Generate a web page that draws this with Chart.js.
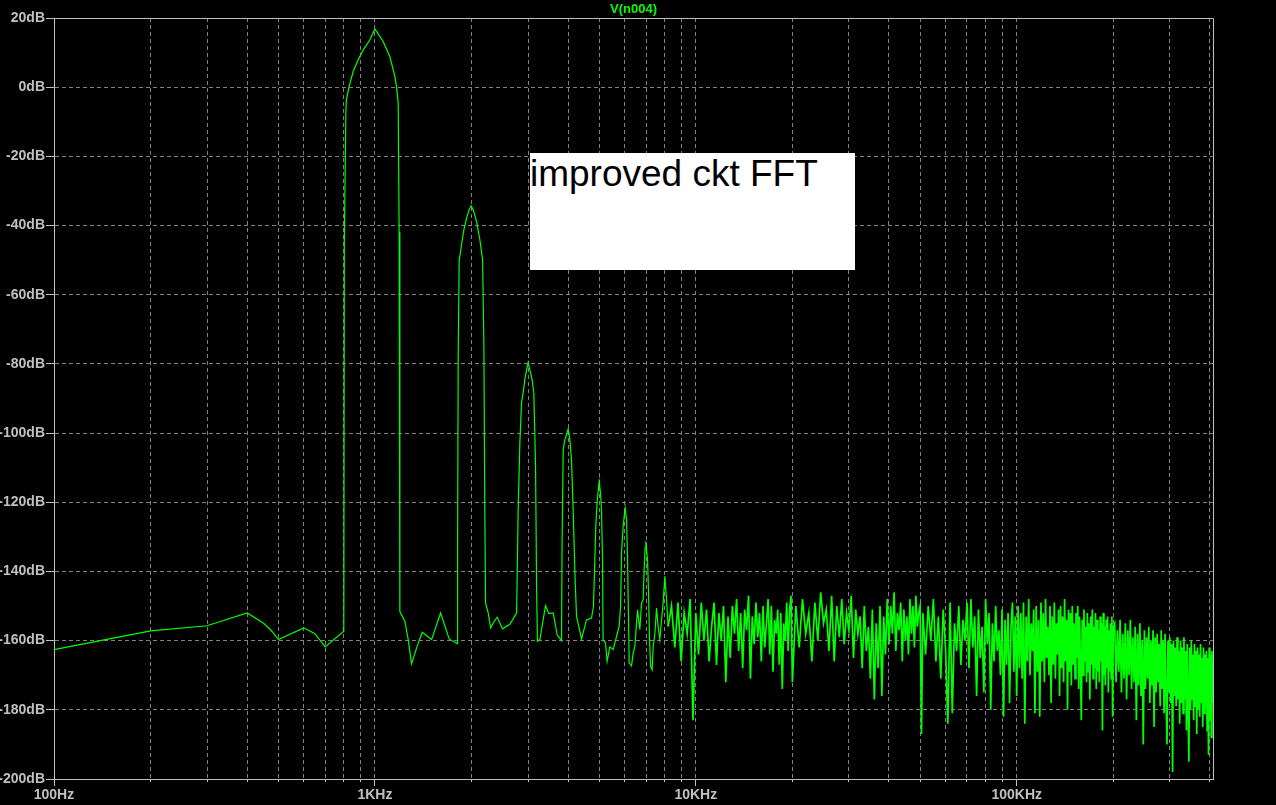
<!DOCTYPE html>
<html>
<head>
<meta charset="utf-8">
<script src="https://cdn.jsdelivr.net/npm/chart.js@4.4.1/dist/chart.umd.min.js"></script>
<style>
  html, body { margin: 0; padding: 0; background: #000; }
  #wrap { position: relative; width: 1276px; height: 805px; }
  #note {
    position: absolute; left: 530px; top: 153px; width: 325px; height: 117px;
    background: #fff; color: #000; box-sizing: border-box; padding: 3px 0 0 0;
    font: 37px/35px "Liberation Sans", Arial, sans-serif; white-space: nowrap;
  }
</style>
</head>
<body>
<div id="wrap">
  <canvas id="fft" width="1276" height="805"></canvas>
  <div id="note">improved ckt FFT</div>
</div>
<script>
// trace name shown above the plot
const TRACE_NAME = "V(n004)";

// 100Hz .. 8.2KHz: floor, fundamental and harmonics (Hz, dB)
const lowFreqHz = [100,200,300,400,450,480,500,600,650,700,800,803,812,815,830,856,887,920,965,1000,
  1061,1113,1154,1168,1182,1190,1196,1240,1270,1301,1349,1404,1502,1602,1704,1805,1810,1818,1831,1849,
  1871,1894,1931,1967,1995,2024,2074,2124,2166,2186,2201,2212,2254,2294,2337,2404,2499,2634,2764,2795,
  2829,2864,2897,2933,2969,3003,3040,3090,3128,3167,3190,3210,3266,3402,3484,3594,3698,3816,3830,3862,
  3908,3956,4002,4051,4101,4148,4200,4250,4405,4564,4732,4800,4881,4926,4962,4999,5047,5083,5120,5142,
  5232,5293,5396,5526,5662,5769,5830,5869,5937,5997,6024,6084,6128,6186,6199,6306,6379,6457,6584,6693,
  6776,6853,6903,6952,6988,7022,7073,7124,7176,7228,7311,7363,7453,7544,7631,7725,7910,8008,8107,8200];
const lowDb = [-162.6,-157.2,-155.7,-152.0,-155,-157.5,-159.7,-156.3,-158,-161.8,-157.3,-45,-7,-3.6,0,4.6,7.9,10.8,13.7,16.8,
  13.2,8.9,3.1,0,-4.6,-42,-151.6,-154.4,-159.7,-166.7,-162.1,-157.6,-159.7,-152,-159.5,-160.9,-133.1,-78.3,-49.9,-47.5,
  -44.1,-41.2,-37.8,-35.4,-34.3,-35.4,-38.8,-44.1,-49.9,-75.4,-123.6,-149.1,-152,-156.3,-154.9,-153.2,-156.6,-155.3,-152,-122.6,
  -102.9,-91.3,-88.4,-84.4,-81.7,-79.6,-81.7,-84.6,-88.4,-109.6,-143.8,-160.2,-159.7,-149.9,-152.2,-152,-158.3,-160,-133.2,-104.8,
  -101.9,-100.5,-98.8,-101.9,-108.2,-122.2,-140.5,-153,-159.5,-154,-153.5,-150,-126.5,-119.8,-116.9,-114,-117.3,-122.2,-135.7,-159.7,
  -160.7,-166,-161.8,-162.6,-158.8,-155.9,-150,-134.7,-127,-123.1,-121.7,-125,-136.6,-159.7,-166.5,-167.3,-163.6,-161.7,-151.1,-156.8,
  -149.1,-148.2,-139.5,-133.2,-131.3,-133.7,-136.6,-146.2,-159.7,-167.4,-168.4,-161.7,-158.3,-150.6,-155.9,-159.7,-149.1,-141.4,-148.2,-155.9];

// noise floor 8.4K .. 20K (kHz, dB)
const noiseA_kHz = [8.4,8.6,8.8,9.0,9.2,9.4,9.6,9.8,10.0,10.2,10.4,10.6,10.8,11.0,11.2,11.4,11.6,11.8,12.0,12.2,
  12.4,12.6,12.8,13.0,13.2,13.4,13.6,13.8,14.0,14.2,14.4,14.6,14.8,15.0,15.2,15.4,15.6,15.8,16.0,16.2,
  16.4,16.6,16.8,17.0,17.2,17.4,17.6,17.8,18.0,18.2,18.4,18.6,18.8,19.0,19.2,19.4,19.6,19.8,20.0];
const noiseA_db = [-150,-162,-149,-166,-152,-158,-148,-183,-152,-164,-149,-160,-151,-166,-156,-149,-167,-152,-160,-150,
  -172,-153,-165,-150,-158,-148,-163,-152,-168,-151,-157,-147,-171,-153,-161,-149,-159,-152,-166,-150,
  -162,-155,-148,-164,-150,-169,-154,-158,-151,-167,-152,-174,-155,-160,-149,-163,-151,-147,-172];

// noise floor 20.5K .. 50.5K
const noiseB_kHz = [20.5,21,21.5,22,22.5,23,23.5,24,24.5,25,25.5,26,26.5,27,27.5,28,28.5,29,29.5,30,
  30.5,31,31.5,32,32.5,33,33.5,34,34.5,35,35.5,36,36.5,37,37.5,38,38.5,39,39.5,40,
  40.5,41,41.5,42,42.5,43,43.5,44,44.5,45,45.5,46,46.5,47,47.5,48,48.5,49,49.5,50,50.5];
const noiseB_db = [-150,-162,-148,-158,-152,-166,-149,-160,-146,-155,-151,-163,-147,-166,-150,-159,-148,-161,-152,-157,
  -147,-165,-151,-158,-153,-168,-150,-163,-156,-171,-151,-177,-155,-168,-150,-176,-153,-164,-148,-161,
  -150,-158,-146,-163,-152,-157,-149,-166,-151,-160,-153,-164,-148,-158,-150,-162,-147,-156,-152,-150,-187];

// noise floor 51K .. 100K
const noiseC_kHz = [51,52,53,54,55,56,57,58,59,60,61,62,63,64,65,66,67,68,69,70,
  71,72,73,74,75,76,77,78,79,80,81,82,83,84,85,86,87,88,89,90,
  91,92,93,94,95,96,97,98,99,100];
const noiseC_db = [-152,-164,-150,-160,-148,-166,-153,-171,-151,-162,-184,-149,-181,-155,-163,-150,-167,-154,-160,-149,
  -168,-148,-162,-153,-176,-151,-165,-156,-175,-148,-161,-152,-180,-155,-166,-150,-163,-157,-170,-151,
  -182,-154,-167,-152,-178,-156,-149,-169,-153,-176];

// noise floor 101K .. 200K
const noiseD_kHz = [101,102,103,104,105,106,107,108,109,110,111,112,113,114,115,116,117,118,119,120,
  121,122,123,124,125,126,127,128,129,130,131,132,133,134,135,136,137,138,139,140,
  141,142,143,144,145,146,147,148,149,150,151,152,153,154,155,156,157,158,159,160,
  161,162,163,164,165,166,167,168,169,170,171,172,173,174,175,176,177,178,179,180,
  181,182,183,184,185,186,187,188,189,190,191,192,193,194,195,196,197,198,199,200];
const noiseD_db = [-150,-168,-152,-171,-149,-184,-153,-166,-148,-170,-155,-163,-151,-181,-150,-169,-154,-182,-149,-166,
  -152,-172,-148,-165,-156,-170,-150,-178,-153,-167,-149,-171,-155,-164,-151,-176,-150,-168,-153,-172,
  -148,-166,-154,-180,-151,-169,-152,-173,-150,-167,-155,-171,-152,-165,-150,-174,-153,-168,-183,-154,
  -170,-151,-166,-156,-172,-152,-169,-155,-177,-153,-167,-151,-171,-156,-168,-152,-174,-154,-169,-157,
  -172,-153,-166,-155,-186,-152,-170,-156,-173,-154,-168,-153,-175,-157,-169,-155,-171,-153,-182,-156];

// noise floor 202K .. 408K
const noiseE_kHz = [202,204,206,208,210,212,214,216,218,220,222,224,226,228,230,232,234,236,238,240,
  242,244,246,248,250,252,254,256,258,260,262,264,266,268,270,272,274,276,278,280,
  282,284,286,288,290,292,294,296,298,300,302,304,306,308,310,312,314,316,318,320,
  322,324,326,328,330,332,334,336,338,340,342,344,346,348,350,352,354,356,358,360,
  362,364,366,368,370,372,374,376,378,380,382,384,386,388,390,392,394,396,398,400,
  402,404,406,408];
const noiseE_db = [-155,-172,-157,-169,-154,-175,-158,-171,-155,-177,-157,-170,-154,-174,-159,-172,-156,-183,-158,-173,
  -155,-176,-160,-190,-157,-174,-159,-171,-156,-178,-160,-173,-157,-185,-159,-175,-158,-172,-161,-179,
  -157,-174,-160,-181,-158,-176,-190,-160,-175,-159,-178,-161,-198,-160,-176,-162,-179,-159,-177,-163,
  -184,-160,-178,-162,-181,-159,-177,-163,-186,-161,-179,-195,-162,-180,-160,-177,-164,-183,-161,-179,
  -163,-187,-162,-180,-164,-182,-161,-178,-165,-185,-162,-181,-164,-179,-163,-186,-165,-193,-162,-183,
  -164,-188,-163,-178];

// axis labels
const yTicksDb = [-200,-180,-160,-140,-120,-100,-80,-60,-40,-20,0,20];
const xDecadeLabels = {100: "100Hz", 1000: "1KHz", 10000: "10KHz", 100000: "100KHz"};
const xGridHz = [100,200,300,400,500,600,700,800,900,
  1000,2000,3000,4000,5000,6000,7000,8000,9000,
  10000,20000,30000,40000,50000,60000,70000,80000,90000,
  100000,200000,300000,400000];

const X_MIN = 100, X_MAX = 409000;
const GREEN = "#00ff00";
const AXIS_GRAY = "#c0c0c0";
const GRID_GRAY = "#808080";
const LABEL_FONT = {family: "'Liberation Sans', Arial, sans-serif", size: 14, weight: "bold"};

function toPoints(freqs, dbs, mult) {
    return freqs.map(function (f, i) { return {x: f * mult, y: dbs[i]}; });
}
var harmonicTrace = toPoints(lowFreqHz, lowDb, 1);
// noise part starts at the last harmonic point so the trace stays joined
var noiseTrace = [harmonicTrace[harmonicTrace.length - 1]].concat(
    toPoints(noiseA_kHz, noiseA_db, 1000),
    toPoints(noiseB_kHz, noiseB_db, 1000),
    toPoints(noiseC_kHz, noiseC_db, 1000),
    toPoints(noiseD_kHz, noiseD_db, 1000),
    toPoints(noiseE_kHz, noiseE_db, 1000)
);

function alignPx(p) { return Math.round(p - 0.5) + 0.5; }

// black background, frame on top/right, longer decade ticks, trace name
const ltspiceLook = {
    id: "ltspiceLook",
    beforeDraw: function (chart) {
        const ctx = chart.ctx;
        ctx.save();
        ctx.fillStyle = "#000";
        ctx.fillRect(0, 0, chart.width, chart.height);
        ctx.restore();
    },
    afterDraw: function (chart) {
        const ctx = chart.ctx, a = chart.chartArea, xs = chart.scales.x;
        ctx.save();
        ctx.strokeStyle = AXIS_GRAY;
        ctx.lineWidth = 1;
        ctx.beginPath();
        ctx.moveTo(alignPx(a.left), alignPx(a.top));
        ctx.lineTo(alignPx(a.right), alignPx(a.top));
        ctx.lineTo(alignPx(a.right), alignPx(a.bottom));
        ctx.stroke();
        Object.keys(xDecadeLabels).forEach(function (v) {
            const px = alignPx(xs.getPixelForValue(Number(v)));
            ctx.beginPath();
            ctx.moveTo(px, a.bottom);
            ctx.lineTo(px, a.bottom + 7);
            ctx.stroke();
        });
        ctx.fillStyle = GREEN;
        ctx.font = "bold 13px 'Liberation Sans', Arial, sans-serif";
        ctx.textAlign = "center";
        ctx.textBaseline = "middle";
        ctx.fillText(TRACE_NAME, (a.left + a.right) / 2, 9);
        ctx.restore();
    }
};

new Chart(document.getElementById("fft").getContext("2d"), {
    type: "line",
    data: {
        datasets: [{
            data: harmonicTrace,
            borderColor: GREEN,
            borderWidth: 1.2,
            pointRadius: 0,
            tension: 0,
            fill: false
        }, {
            data: noiseTrace,
            borderColor: GREEN,
            borderWidth: 1.7,
            pointRadius: 0,
            tension: 0,
            fill: false
        }]
    },
    options: {
        responsive: false,
        devicePixelRatio: 1,
        animation: false,
        layout: {padding: {left: 0, top: 18, right: 63, bottom: 0}},
        plugins: {legend: {display: false}, tooltip: {enabled: false}, title: {display: false}},
        scales: {
            x: {
                type: "logarithmic",
                min: X_MIN,
                max: X_MAX,
                bounds: "data",
                afterBuildTicks: function (scale) {
                    scale.ticks = xGridHz.map(function (v) { return {value: v}; });
                },
                afterFit: function (scale) { scale.height = 26; },
                ticks: {
                    autoSkip: false,
                    maxRotation: 0,
                    minRotation: 0,
                    padding: 5,
                    color: AXIS_GRAY,
                    font: LABEL_FONT,
                    callback: function (value) { return xDecadeLabels[value] || ""; }
                },
                grid: {color: GRID_GRAY, tickColor: AXIS_GRAY, tickLength: 3, tickBorderDash: []},
                border: {display: true, color: AXIS_GRAY, width: 1, dash: [4, 3]}
            },
            y: {
                type: "linear",
                min: -200,
                max: 20,
                afterBuildTicks: function (scale) {
                    scale.ticks = yTicksDb.map(function (v) { return {value: v}; });
                },
                afterFit: function (scale) { scale.width = 54; },
                ticks: {
                    padding: 1,
                    color: AXIS_GRAY,
                    font: LABEL_FONT,
                    callback: function (value) { return value + "dB"; }
                },
                grid: {color: GRID_GRAY, tickColor: AXIS_GRAY, tickLength: 8, tickBorderDash: []},
                border: {display: true, color: AXIS_GRAY, width: 1, dash: [4, 3]}
            }
        }
    },
    plugins: [ltspiceLook]
});
</script>
</body>
</html>
